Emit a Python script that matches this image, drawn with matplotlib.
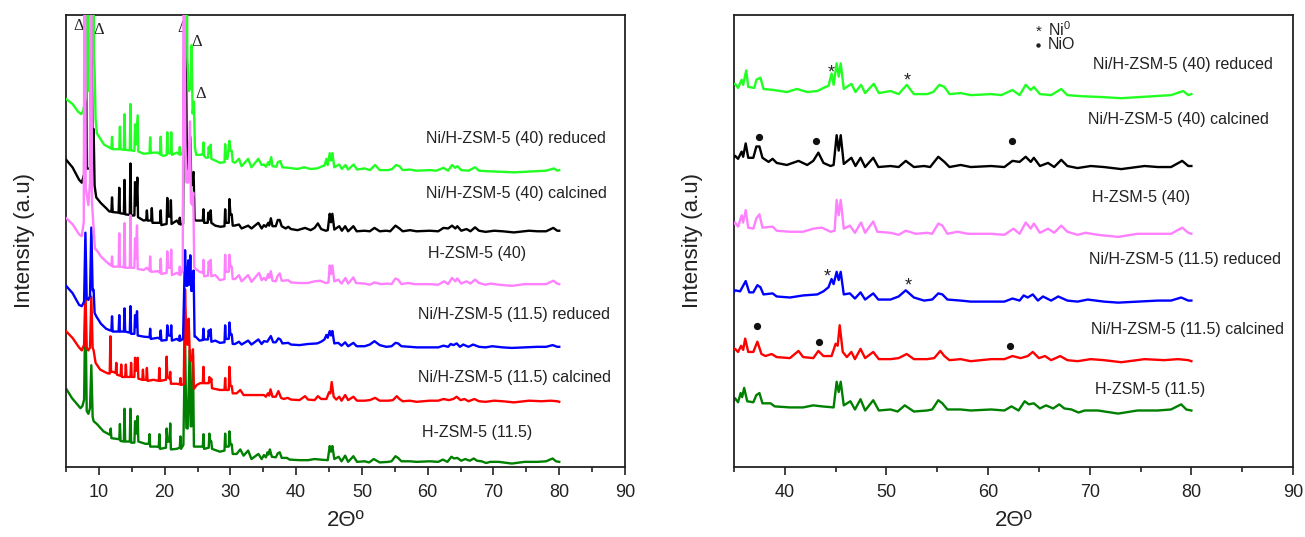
import numpy as np
import matplotlib
matplotlib.use("Agg")
import matplotlib.pyplot as plt
from matplotlib.ticker import MultipleLocator, NullLocator

plt.rcParams['font.family'] = ['Liberation Sans', 'DejaVu Sans']
plt.rcParams['mathtext.fontset'] = 'custom'
plt.rcParams['mathtext.rm'] = 'Liberation Sans'

# ---------------- data (2theta, intensity a.u.) ----------------
SAMPLES = ["H-ZSM-5 (11.5)", "Ni/H-ZSM-5 (11.5) calcined", "Ni/H-ZSM-5 (11.5) reduced",
           "H-ZSM-5 (40)", "Ni/H-ZSM-5 (40) calcined", "Ni/H-ZSM-5 (40) reduced"]
COLORS = ["#008000", "#ff0000", "#0000ff", "#ff80ff", "#000000", "#22ff22"]

H115 = [(5.0,130),(5.9,113),(7.2,95),(7.5,99),(7.75,110),(7.95,288),(8.15,90),(8.4,85),(8.65,95),
        (8.85,171),(9.05,80),(9.2,72),(9.7,67),(10.7,54),(11.5,49),(11.7,48),(11.8,59),(11.9,42),
        (13.1,40),(13.2,67),(13.3,37),(13.8,36),(13.9,94),(14.0,36),(14.7,36),(14.8,94),(14.9,34),
        (15.4,34),(15.5,72),(15.7,50),(15.9,81),(16.0,36),(17.05,32),(17.6,32),(17.7,49),(17.8,27),
        (18.8,27),(19.1,26),(19.2,49),(19.3,23),(20.2,25),(20.3,59),(20.45,36),(20.75,36),(20.85,68),
        (20.95,22),(21.8,23),(22.3,25),(22.4,45),(22.5,23),(22.85,30),(23.1,225),(23.3,60),(23.5,59),
        (23.8,198),(23.95,63),(24.1,63),(24.3,189),(24.45,27),(25.4,27),(25.8,27),(25.9,49),(26.0,23),
        (26.7,25),(26.8,50),(26.95,36),(27.1,36),(27.2,23),(28.4,18),(29.1,20),(29.2,50),(29.3,27),
        (29.75,27),(29.85,54),(30.0,31),(30.2,31),(30.35,14),(30.95,14),(31.5,22),(32.0,11),(32.7,20),
        (33.2,5),(34.25,14),(34.75,5),
        (35.1,12),(35.4,8),(35.65,17),(35.8,13),(36.0,22),(36.3,9),(36.9,8),(37.2,15),(37.5,17),
        (37.8,7),(38.6,7),(39.0,4),(40.5,3),(41.8,3),(42.8,5),(43.65,4),(44.8,3),(45.1,28),(45.3,18),
        (45.5,28),(45.8,5),(46.45,9),(46.9,1),(47.45,11),(47.9,0),(48.7,10),(49.25,0),(50.4,1),
        (51.1,-1),(51.8,5),(52.7,-1),(54.0,0),(54.5,1),(55.1,10),(55.5,7),(56.0,1),(57.3,1),(58.3,0),
        (60.3,1),(61.6,0),(62.3,4),(63.0,0),(63.6,9),(64.0,6),(64.5,7),(65.1,2),(65.7,5),(66.4,2),
        (67.0,6),(67.5,2),(68.2,1),(68.9,-2),(69.5,0),(70.8,0),(72.8,-3),(74.7,0),(76.7,0),(78.0,1),
        (79.0,6),(79.5,1),(80.0,0)]

NI115_CALC = [(5.0,124),(6.0,112),(7.0,95),(7.4,90),(7.75,100),(7.95,198),(8.15,95),(8.4,90),(8.65,95),
        (8.85,185),(9.05,95),(9.2,90),(9.5,68),(10.2,56),(11.2,50),(11.5,49),(11.65,49),(11.75,115),
        (11.85,52),(12.2,52),(12.55,50),(12.65,68),(12.75,47),(13.3,45),(13.4,65),(13.5,43),(14.0,43),
        (14.1,65),(14.2,43),(14.8,43),(14.9,68),(15.0,43),(15.4,43),(15.5,77),(15.7,54),(15.9,77),
        (16.0,40),(16.6,38),(16.7,56),(16.8,38),(17.2,38),(17.3,59),(17.4,36),(18.3,38),(19.1,36),
        (19.2,59),(19.3,36),(20.2,38),(20.3,79),(20.4,43),(20.75,40),(20.85,52),(20.95,31),(21.8,31),
        (22.3,30),(22.4,41),(22.5,29),(22.9,30),(23.1,198),(23.3,108),(23.45,100),(23.65,146),
        (23.85,72),(24.15,72),(24.3,92),(24.45,22),(24.9,29),(25.4,32),(25.8,32),(25.9,61),(26.0,32),
        (26.7,32),(26.8,43),(26.95,35),(27.1,40),(27.2,23),(28.4,20),(29.1,20),(29.2,41),(29.3,20),
        (29.75,20),(29.85,61),(30.0,27),(30.2,27),(30.35,14),(30.95,14),(31.5,20),(32.0,11),(33.5,11),
        (34.5,11),
        (35.1,11),(35.4,8),(35.7,14),(35.9,10),(36.1,21),(36.4,8),(36.9,8),(37.3,18),(37.7,6),(38.1,4),
        (38.7,6),(39.2,3),(40.5,2),(41.35,9),(41.8,3),(42.8,2),(43.3,9),(43.8,4),(44.6,4),(45.0,16),
        (45.2,14),(45.4,34),(45.7,8),(46.1,3),(46.55,8),(46.9,1),(47.45,11),(47.9,2),(48.7,8),(49.25,1),
        (50.4,1),(51.2,2),(52.0,6),(52.7,1),(54.0,1),(54.7,2),(55.3,9),(55.7,4),(56.2,0),(57.3,1),
        (58.3,-1),(60.3,1),(61.6,1),(62.4,4),(63.2,2),(63.9,4),(64.4,8),(65.0,2),(65.6,4),(66.2,0),
        (67.1,4),(67.8,0),(68.8,-1),(70.1,1),(71.4,0),(73.1,-2),(75.4,1),(77.3,0),(78.7,1),(79.7,0),
        (80.0,-1)]

NI115_RED = [(5.0,108),(6.0,95),(7.0,74),(7.4,72),(7.75,80),(7.95,202),(8.15,85),(8.4,83),(8.65,90),
        (8.85,211),(9.05,100),(9.2,101),(9.35,60),(9.6,54),(10.3,41),(11.1,32),(11.7,29),(11.9,29),
        (12.0,54),(12.1,27),(13.0,27),(13.1,56),(13.2,27),(13.8,27),(13.9,68),(14.0,27),(14.7,25),
        (14.8,72),(14.9,23),(15.4,23),(15.5,56),(15.65,35),(15.8,63),(15.9,20),(16.8,18),(17.7,17),
        (17.8,32),(17.9,14),(19.0,16),(19.3,14),(19.4,29),(19.5,11),(20.3,12),(20.4,38),(20.5,20),
        (20.9,20),(21.0,38),(21.1,11),(21.85,14),(22.2,11),(22.3,20),(22.4,11),(22.8,14),(23.1,171),
        (23.3,108),(23.45,108),(23.6,153),(23.75,110),(23.9,162),(24.05,99),(24.15,99),(24.4,135),
        (24.55,18),(24.7,18),(25.3,11),(25.8,12),(25.9,32),(26.0,13),(26.6,13),(26.7,29),(26.85,20),
        (27.0,31),(27.1,9),(27.7,11),(28.4,7),(29.1,8),(29.2,38),(29.3,14),(29.75,14),(29.85,43),
        (30.0,22),(30.2,22),(30.35,5),(30.7,5),(31.3,9),(31.7,4),(32.7,11),(33.2,4),(34.25,13),
        (34.75,5),
        (35.1,10),(35.6,9),(36.15,19),(36.5,8),(36.9,8),(37.3,15),(37.6,13),(37.9,6),(38.8,7),(39.2,4),
        (40.5,3),(41.8,5),(43.2,6),(43.8,9),(44.3,13),(44.6,21),(44.8,16),(45.1,28),(45.3,20),(45.5,28),
        (45.8,6),(46.4,7),(46.9,2),(47.45,8),(47.9,1),(48.7,7),(49.2,1),(50.4,1),(51.2,4),(51.9,10),
        (52.7,3),(53.7,0),(54.5,1),(55.1,7),(55.5,6),(56.0,1),(57.3,0),(58.3,-1),(60.3,-1),(61.6,-1),
        (62.4,2),(63.1,0),(63.5,5),(63.9,3),(64.4,6),(64.9,0),(65.4,4),(66.2,0),(66.9,4),(67.8,0),
        (68.8,-1),(69.8,1),(71.4,-1),(72.8,-2),(74.7,-1),(76.7,0),(78.0,0),(79.0,3),(79.7,0),(80.0,0)]

H40 = [(5.0,117),(6.0,106),(7.0,88),(7.4,85),(7.7,110),(7.85,800),(8.0,170),(8.4,140),(8.65,180),
        (8.8,800),(8.95,144),(9.4,63),(9.8,58),(10.3,49),(11.1,40),(11.7,34),(11.9,33),(12.0,49),
        (12.1,31),(13.0,31),(13.1,90),(13.2,31),(13.8,30),(13.9,108),(14.0,29),(14.7,29),(14.8,122),
        (14.9,29),(15.4,29),(15.5,81),(15.6,45),(15.8,104),(15.9,27),(16.8,25),(17.3,29),(17.7,24),
        (17.8,49),(17.9,22),(18.2,22),(19.0,23),(19.3,20),(19.4,45),(19.5,18),(20.3,20),(20.4,58),
        (20.5,29),(20.9,29),(21.0,61),(21.1,16),(21.85,20),(22.2,17),(22.3,31),(22.4,16),(22.75,25),
        (22.95,800),(23.15,252),(23.3,180),(23.6,180),(23.85,288),(24.0,144),(24.2,140),(24.35,162),
        (24.5,30),(24.7,27),(25.3,22),(25.8,20),(25.9,43),(26.0,14),(26.6,15),(26.7,40),(26.85,25),
        (27.0,43),(27.1,14),(27.7,16),(28.4,7),(29.1,9),(29.2,52),(29.3,22),(29.75,22),(29.85,52),
        (30.0,31),(30.2,31),(30.35,9),(30.7,9),(31.3,16),(31.7,5),(32.7,16),(33.2,4),(34.35,20),
        (34.75,7),
        (35.1,11),(35.4,7),(35.75,18),(35.9,11),(36.15,23),(36.4,6),(36.9,5),(37.2,15),(37.5,19),
        (37.8,6),(38.8,7),(39.2,3),(40.5,2),(41.8,2),(42.8,5),(43.65,6),(44.5,2),(44.9,3),(45.1,33),
        (45.3,18),(45.5,33),(45.8,5),(46.4,8),(46.9,1),(47.5,11),(47.9,1),(48.7,12),(49.1,2),(50.4,1),
        (51.2,-1),(51.9,3),(52.9,0),(54.0,1),(54.5,0),(55.1,10),(55.5,8),(56.0,0),(57.0,2),(58.0,0),
        (60.3,0),(61.6,-1),(62.5,5),(63.1,0),(63.7,11),(64.2,5),(64.5,10),(65.1,1),(65.9,5),(66.5,1),
        (67.2,8),(67.8,2),(68.8,-1),(69.6,1),(70.8,-1),(72.8,-3),(74.7,0),(76.7,0),(78.0,0),(79.1,6),
        (79.7,1),(80.0,0)]

NI40_CALC = [(5.0,126),(6.0,112),(7.0,90),(7.4,85),(7.75,100),(7.95,540),(8.15,110),(8.65,110),
        (8.85,450),(9.05,120),(9.2,180),(9.35,80),(9.6,59),(10.3,49),(11.1,40),(11.6,34),(11.9,34),
        (12.0,59),(12.1,33),(13.0,32),(13.1,76),(13.2,31),(13.8,30),(13.9,90),(14.0,29),(14.7,28),
        (14.8,119),(14.9,27),(15.4,27),(15.5,86),(15.65,45),(15.85,94),(15.95,24),(16.8,18),(17.2,19),
        (17.3,36),(17.4,18),(17.95,18),(18.05,40),(18.15,14),(19.0,14),(19.3,14),(19.4,36),(19.5,10),
        (20.3,12),(20.4,58),(20.5,25),(20.85,25),(20.95,54),(21.05,12),(21.85,18),(22.2,12),(22.3,23),
        (22.4,11),(22.8,12),(23.05,540),(23.4,110),(23.6,108),(23.9,166),(24.05,80),(24.15,90),
        (24.4,104),(24.55,20),(24.75,18),(25.4,18),(25.8,18),(25.9,38),(26.0,14),(26.55,14),(26.65,32),
        (26.8,20),(27.0,36),(27.1,14),(27.7,9),(28.5,7),(29.1,8),(29.2,38),(29.3,14),(29.75,14),
        (29.85,56),(30.0,29),(30.2,29),(30.35,9),(30.6,9),(31.3,11),(31.7,4),(32.7,9),(33.2,4),
        (34.25,14),(34.75,4),
        (35.1,10),(35.4,7),(35.75,14),(35.9,9),(36.15,22),(36.4,8),(36.9,8),(37.2,19),(37.5,19),
        (37.8,8),(38.4,4),(38.8,7),(39.2,3),(40.2,1),(41.35,5),(42.2,1),(42.8,5),(43.3,13),(43.8,3),
        (44.5,0),(44.8,1),(45.1,30),(45.3,15),(45.5,30),(45.8,2),(46.55,8),(46.95,0),(47.45,8),
        (47.9,-1),(48.7,8),(49.2,-1),(50.4,0),(51.2,-1),(51.9,5),(52.7,-1),(53.7,0),(54.3,-1),(55.1,9),
        (55.7,4),(56.2,-1),(57.3,1),(58.3,-1),(60.3,0),(61.6,-1),(62.4,5),(63.1,4),(63.7,9),(64.2,4),
        (64.5,8),(65.1,0),(65.9,3),(66.5,-1),(67.2,6),(67.8,0),(68.8,-2),(70.1,0),(71.4,-1),(73.1,-3),
        (75.4,0),(76.7,-1),(78.0,-1),(79.1,5),(79.7,0),(80.0,0)]

NI40_RED = [(5.0,126),(6.0,117),(6.8,104),(7.3,99),(7.6,105),(8.05,130),(8.25,720),(8.45,140),
        (8.8,150),(9.1,720),(9.25,200),(9.35,176),(9.5,90),(9.7,65),(10.3,54),(10.8,45),(11.6,40),
        (11.9,38),(12.0,59),(12.1,37),(13.1,37),(13.2,77),(13.3,37),(13.8,36),(13.9,99),(14.0,36),
        (14.7,35),(14.8,117),(14.9,35),(15.4,34),(15.5,81),(15.6,45),(15.9,97),(16.0,33),(16.8,29),
        (17.7,30),(17.8,58),(17.9,30),(18.3,31),(19.0,31),(19.3,28),(19.4,59),(19.5,27),(19.8,25),
        (20.3,27),(20.4,67),(20.5,30),(20.9,30),(21.0,67),(21.1,27),(21.85,31),(22.2,28),(22.3,41),
        (22.4,27),(22.75,30),(22.95,60),(23.2,720),(23.45,200),(23.7,140),(24.0,150),(24.1,221),
        (24.25,100),(24.45,121),(24.6,40),(24.8,27),(25.3,27),(25.8,28),(25.9,49),(26.0,25),(26.3,22),
        (26.6,22),(26.7,41),(26.85,30),(27.0,45),(27.1,20),(27.5,18),(28.4,13),(29.1,14),(29.2,46),
        (29.35,20),(29.55,20),(29.85,52),(30.0,34),(30.2,34),(30.35,15),(30.7,13),(31.3,20),(31.7,7),
        (32.7,20),(33.2,5),(34.25,20),(34.75,9),
        (35.1,10),(35.4,6),(35.75,14),(35.9,9),(36.2,23),(36.4,7),(37.0,6),(37.2,14),(37.6,16),
        (37.9,5),(38.9,4),(40.2,2),(41.2,5),(42.2,2),(43.2,3),(44.0,7),(44.3,8),(44.6,20),(44.8,9),
        (45.1,30),(45.3,17),(45.5,30),(45.8,5),(46.55,10),(46.95,2),(47.5,9),(47.9,1),(48.75,10),
        (49.25,1),(50.4,3),(51.2,0),(52.0,9),(52.7,0),(54.0,0),(54.6,2),(55.2,9),(55.7,7),(56.2,0),
        (57.3,1),(58.3,-1),(60.3,0),(61.3,-1),(62.4,4),(63.1,-1),(63.7,9),(64.2,4),(64.5,7),(65.1,0),
        (66.2,-1),(67.2,5),(67.8,-1),(69.1,-2),(71.4,-3),(73.1,-4),(76.4,-2),(78.0,-1),(79.2,3),
        (79.7,-1),(80.0,0)]

PATTERNS = [H115, NI115_CALC, NI115_RED, H40, NI40_CALC, NI40_RED]

# zeolite reflections (left panel, triangles) and Ni phases (right panel)
DELTA_MARKS = [(6.9, 429), (9.9, 425), (22.8, 427), (24.9, 414), (25.5, 363)]
NI0_MARKS = [(44.6, 387), (52.0, 379), (44.2, 188), (52.1, 179)]
NIO_MARKS = [(37.5, 321), (43.1, 317), (62.4, 317), (37.3, 137), (43.4, 122), (62.2, 118)]

# ---------------- layout / style ----------------
LEFT_OFFSETS = [5, 64, 117, 178, 230, 289]
LEFT_SCALE = 0.55
RIGHT_OFFSETS = [55, 104, 162, 227, 293, 363]
RIGHT_SCALE = 1.0
LEFT_LABEL_Y = [34, 87, 148, 208, 266, 320]
LEFT_LABEL_X = [59.2, 58.5, 58.5, 60.0, 59.8, 59.8]
RIGHT_LABEL_Y = [75, 134, 202, 262, 338, 392]
RIGHT_LABEL_X = [70.5, 70.1, 69.9, 70.2, 69.8, 70.3]

W, H = 1305, 537
fig = plt.figure(figsize=(W / 100, H / 100), dpi=100)
bot, top = 467, 15
axL = fig.add_axes([66 / W, 1 - bot / H, (625 - 66) / W, (bot - top) / H])
axR = fig.add_axes([734 / W, 1 - bot / H, (1293 - 734) / W, (bot - top) / H])

draw_order = [0, 1, 2, 4, 5, 3]
for ax, offs, scale in [(axL, LEFT_OFFSETS, LEFT_SCALE), (axR, RIGHT_OFFSETS, RIGHT_SCALE)]:
    for i in draw_order:
        arr = np.array(PATTERNS[i], dtype=float)
        ax.plot(arr[:, 0], offs[i] + scale * arr[:, 1], color=COLORS[i], lw=1.7,
                solid_joinstyle='round', zorder=2 + draw_order.index(i))

for ax, xmin in [(axL, 5), (axR, 35)]:
    ax.set_xlim(xmin, 90)
    ax.set_ylim(0, 440)
    ax.xaxis.set_major_locator(MultipleLocator(10))
    ax.xaxis.set_minor_locator(MultipleLocator(5))
    ax.yaxis.set_major_locator(NullLocator())
    ax.yaxis.set_minor_locator(NullLocator())
    ax.tick_params(axis='x', which='major', direction='out', length=6, width=1.2,
                   labelsize=13, pad=6, colors='#222222')
    ax.tick_params(axis='x', which='minor', direction='out', length=3.5, width=1.2, colors='#222222')
    for s in ax.spines.values():
        s.set_linewidth(1.3)
        s.set_color('#222222')
    ax.set_xlabel("2Θº", fontsize=16, color='#222222')
    ax.xaxis.set_label_coords(0.5, -0.095)
    ax.set_ylabel("Intensity (a.u)", fontsize=16, color='#222222')
    ax.yaxis.set_label_coords(-0.055, 0.5)

for i, name in enumerate(SAMPLES):
    axL.text(LEFT_LABEL_X[i], LEFT_LABEL_Y[i], name, fontsize=11.5, ha='left', va='center', color='#222222')
    axR.text(RIGHT_LABEL_X[i], RIGHT_LABEL_Y[i], name, fontsize=11.5, ha='left', va='center', color='#222222')

for x, y in DELTA_MARKS:
    axL.text(x, y, "Δ", fontsize=12, family='Liberation Serif', ha='center', va='center', color='#222222')
for x, y in NI0_MARKS:
    axR.text(x, y - 3, "*", fontsize=13, ha='center', va='center', color='#222222')
nio = np.array(NIO_MARKS)
axR.plot(nio[:, 0], nio[:, 1], 'o', color='#111111', ms=4.2, zorder=10)

axR.text(65.0, 424, "*", fontsize=11, ha='center', va='center', color='#222222')
axR.text(65.9, 426, r"Ni$^0$", fontsize=11.5, ha='left', va='center', color='#222222')
axR.plot([64.9], [411], 'o', color='#222222', ms=2.2)
axR.text(65.9, 411, "NiO", fontsize=11.5, ha='left', va='center', color='#222222')

fig.savefig("out.png", dpi=100)
